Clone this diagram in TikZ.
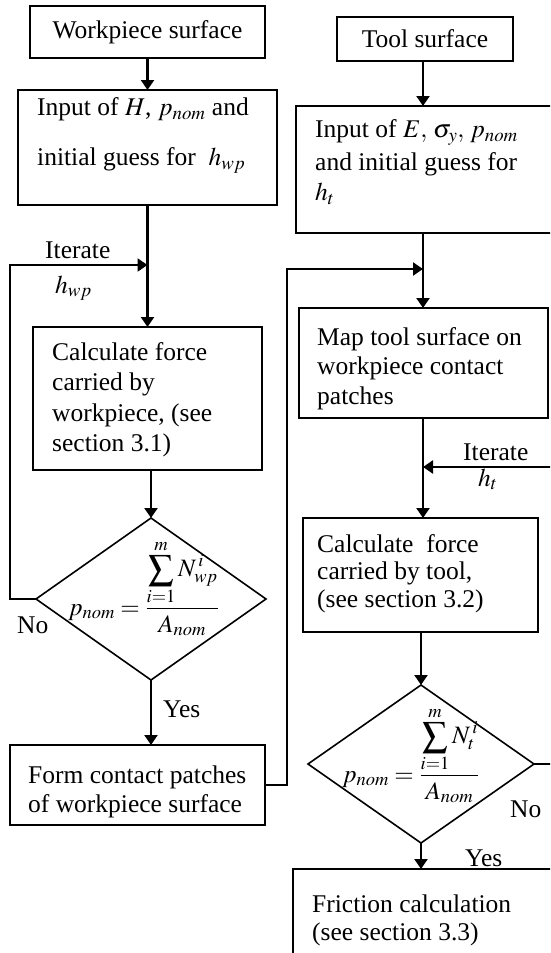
\documentclass[tikz,border=0pt]{standalone}
\usepackage{amsmath}
\usepackage{mathptmx}
\usepackage[no-math]{fontspec}
\setmainfont{Liberation Serif}
\usetikzlibrary{shapes.geometric,arrows.meta}
\newcommand\bigtxt{\fontsize{25.5}{29.5}\selectfont}
\newcommand\frmtxt{\fontsize{25}{30}\selectfont}
\begin{document}
\begin{tikzpicture}[x=1pt,y=-1pt,
  box/.style={draw, line width=1.6pt, inner sep=0pt, outer sep=0pt, font=\bigtxt},
  dia/.style={draw, diamond, line width=1.6pt, inner sep=0pt, outer sep=0pt},
  arr/.style={line width=2.2pt, -{Triangle[width=13pt,length=10pt]}},
  txt/.style={anchor=north west, yshift=20.65pt, inner sep=0pt, align=left, font=\bigtxt},
  lbl/.style={anchor=base west, inner sep=0pt, font=\bigtxt},
  frm/.style={anchor=base west, inner sep=0pt, font=\frmtxt}]
\useasboundingbox (0,0) rectangle (550,953);
\clip (0,0) rectangle (550,953);

% left column
\node[box, minimum width=235pt, minimum height=52pt] (ws) at (147.5,32) {Workpiece surface};
\node[box, minimum width=259pt, minimum height=115pt] (win) at (147.5,147.5) {};
\node[txt] (wint) at (37,115) {\strut Input of $H$, $p_{nom}$ and\\[21pt]\strut initial guess for\ \ $h_{wp}$};
\node[box, minimum width=229pt, minimum height=143pt] (wcalc) at (147.5,398.5) {};
\node[txt] (wcalct) at (52,360) {\strut Calculate force\\[1pt]\strut carried by\\[1pt]\strut workpiece, (see\\[1pt]\strut section 3.1)};
\node[dia, minimum width=230pt, minimum height=162pt] (wdia) at (151,599) {};
\node[frm] (wf) at (68,615) {$p_{nom}=\dfrac{\displaystyle\sum_{i=1}^{m}N_{wp}^{\,i}}{A_{nom}}$};
\node[box, minimum width=255pt, minimum height=80pt] (wform) at (137.5,785) {};
\node[txt] (wformt) at (28,783) {\strut Form contact patches\\\strut of workpiece surface};

\node[lbl] (it1) at (45,258) {Iterate};
\node[lbl] (hw) at (55,293) {$h_{wp}$};
\node[lbl] (no1) at (17,633) {No};
\node[lbl] (yes1) at (163,717) {Yes};

% right column
\node[box, minimum width=176pt, minimum height=44pt] (ts) at (425,39) {Tool surface};
\node[box, minimum width=270pt, minimum height=127pt] (tin) at (431,169.5) {};
\node[txt] (tint) at (315,137) {\strut Input of $E,\,\sigma_{y},\, p_{nom}$\\[4pt]\strut and initial guess for\\\strut $h_{t}$};
\node[box, minimum width=249pt, minimum height=110pt] (tmap) at (423.5,363) {};
\node[txt] (tmapt) at (317,345) {\strut Map tool surface on\\\strut workpiece contact\\\strut patches};
\node[box, minimum width=235pt, minimum height=114pt] (tcalc) at (420.5,575) {};
\node[txt] (tcalct) at (317,552) {\strut Calculate\ \ force\\[-2pt]\strut carried by tool,\\[-2pt]\strut (see section 3.2)};
\node[dia, minimum width=226pt, minimum height=158pt] (tdia) at (421,764) {};
\node[frm] (tf) at (342,782) {$p_{nom}=\dfrac{\displaystyle\sum_{i=1}^{m}N_{t}^{\,i}}{A_{nom}}$};
\node[box, minimum width=270pt, minimum height=110pt] (tfric) at (428,924) {};
\node[txt] (tfrict) at (312,912) {\strut Friction calculation\\[-1pt]\strut (see section 3.3)};

\node[lbl] (it2) at (463,460) {Iterate};
\node[lbl] (ht) at (478,486) {$h_{t}$};
\node[lbl] (no2) at (510,817) {No};
\node[lbl] (yes2) at (465,866) {Yes};

% helper coordinates
\coordinate (rax) at (423,0);
\coordinate (jl) at (147.5,265);
\coordinate (jr) at (423,269);
\coordinate (ji) at (423,467);
\coordinate (lx) at (10,265);
\coordinate (mx) at (287,269);
\coordinate (rx) at (566,467);

% connectors
\draw[arr] (ws.south) -- (win.north);
\draw[arr] (win.south) -- (wcalc.north);
\draw[arr] (wdia.west) -| (lx) -- (jl);
\draw[arr] (wcalc.south -| wdia.north) -- (wdia.north);
\draw[arr] (wdia.south) -- (wdia.south |- wform.north);
\draw[arr] (wform.east) -| (mx) -- (jr);
\draw[arr] (ts.south -| rax) -- (tin.north -| rax);
\draw[arr] (tin.south -| rax) -- (tmap.north -| rax);
\draw[arr] (tmap.south -| rax) -- (tcalc.north -| rax);
\draw[arr] (tdia.east) -| (rx) -- (ji);
\draw[arr] (tcalc.south -| tdia.north) -- (tdia.north);
\draw[arr] (tdia.south) -- (tdia.south |- tfric.north);
\end{tikzpicture}
\end{document}
